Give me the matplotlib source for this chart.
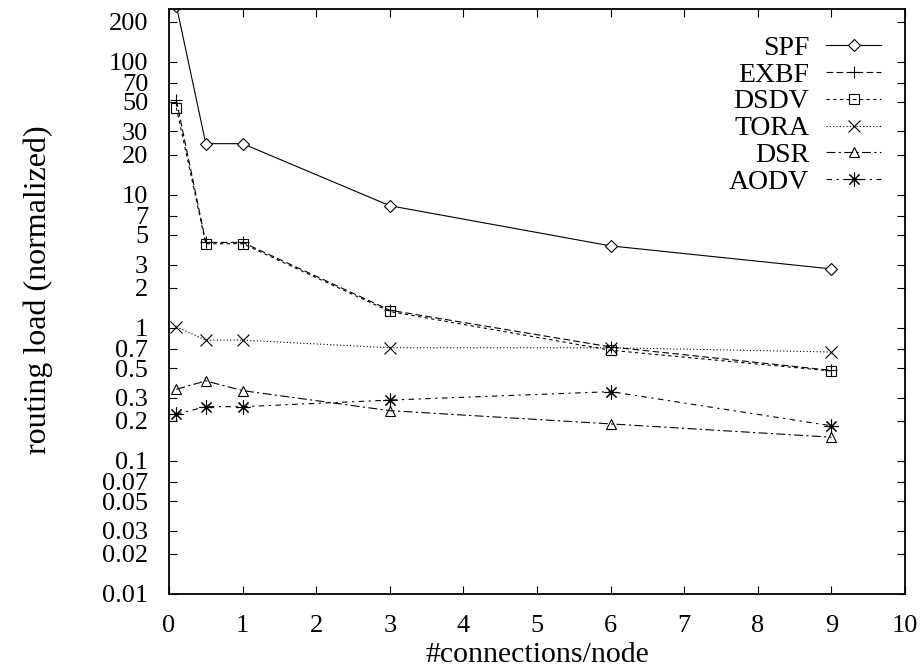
import numpy as np
import matplotlib
matplotlib.use("Agg")
import matplotlib.pyplot as plt
from matplotlib.ticker import FixedLocator, FixedFormatter, NullLocator

plt.rcParams['font.family'] = ['Liberation Serif', 'DejaVu Serif']

conns = [0.1, 0.5, 1, 3, 6, 9]

spf = [265, 24.3, 24.3, 8.3, 4.14, 2.78]
exbf = [51.5, 4.4, 4.4, 1.36, 0.72, 0.48]
dsdv = [45.3, 4.3, 4.3, 1.33, 0.68, 0.475]
tora = [1.02, 0.81, 0.81, 0.71, 0.71, 0.66]
dsr = [0.346, 0.40, 0.338, 0.239, 0.19, 0.151]
aodv = [0.225, 0.256, 0.256, 0.287, 0.332, 0.184]

yticks = [0.01, 0.02, 0.03, 0.05, 0.07, 0.1, 0.2, 0.3, 0.5, 0.7,
          1, 2, 3, 5, 7, 10, 20, 30, 50, 70, 100, 200]
ytick_labels = ["%g" % v for v in yticks]

fig = plt.figure(figsize=(9.23, 6.68), dpi=100)
ax = fig.add_axes([169 / 923, 1 - 594 / 668, (905 - 169) / 923, (594 - 9) / 668])

lw = 0.8
ax.plot(conns, spf, color="black", lw=lw, ls="-", marker="D", ms=6,
        mfc="white", mec="black", mew=lw, label="SPF")
ax.plot(conns, exbf, color="black", lw=lw, ls=(0, (6, 3)), marker="+", ms=9,
        mew=lw, label="EXBF")
ax.plot(conns, dsdv, color="black", lw=lw, ls=(0, (3, 3)), marker="s", ms=7,
        mfc="none", mec="black", mew=lw, label="DSDV")
ax.plot(conns, tora, color="black", lw=lw, ls=(0, (1, 2)), marker="x", ms=8,
        mew=lw, label="TORA")
ax.plot(conns, dsr, color="black", lw=lw, ls=(0, (8, 3, 2, 3)), marker="^", ms=7,
        mfc="none", mec="black", mew=lw, label="DSR")
ax.plot(conns, aodv, color="black", lw=lw, ls=(0, (5, 4, 2, 4)), marker=(8, 2, 0), ms=10,
        mew=lw, label="AODV")

ax.set_yscale("log")
ax.set_xlim(0, 10)
ax.set_ylim(0.01, 250)
ax.set_xticks(range(0, 11))
ax.yaxis.set_major_locator(FixedLocator(yticks))
ax.yaxis.set_major_formatter(FixedFormatter(ytick_labels))
ax.yaxis.set_minor_locator(NullLocator())

ax.tick_params(direction="in", length=6, width=0.8, top=True, right=True,
               labelsize=19, pad=15)
for s in ax.spines.values():
    s.set_linewidth(1.3)

ax.set_xlabel("#connections/node", fontsize=21.5, labelpad=4)
ax.set_ylabel("routing load (normalized)", fontsize=23)
ax.yaxis.set_label_coords(-0.158, 0.52)

ax.legend(loc="upper right", bbox_to_anchor=(0.968, 0.955), frameon=False,
          markerfirst=False, fontsize=20, handlelength=2.0, handletextpad=0.6,
          labelspacing=0.05, borderaxespad=0, borderpad=0)

fig.savefig("out.png", dpi=100)
